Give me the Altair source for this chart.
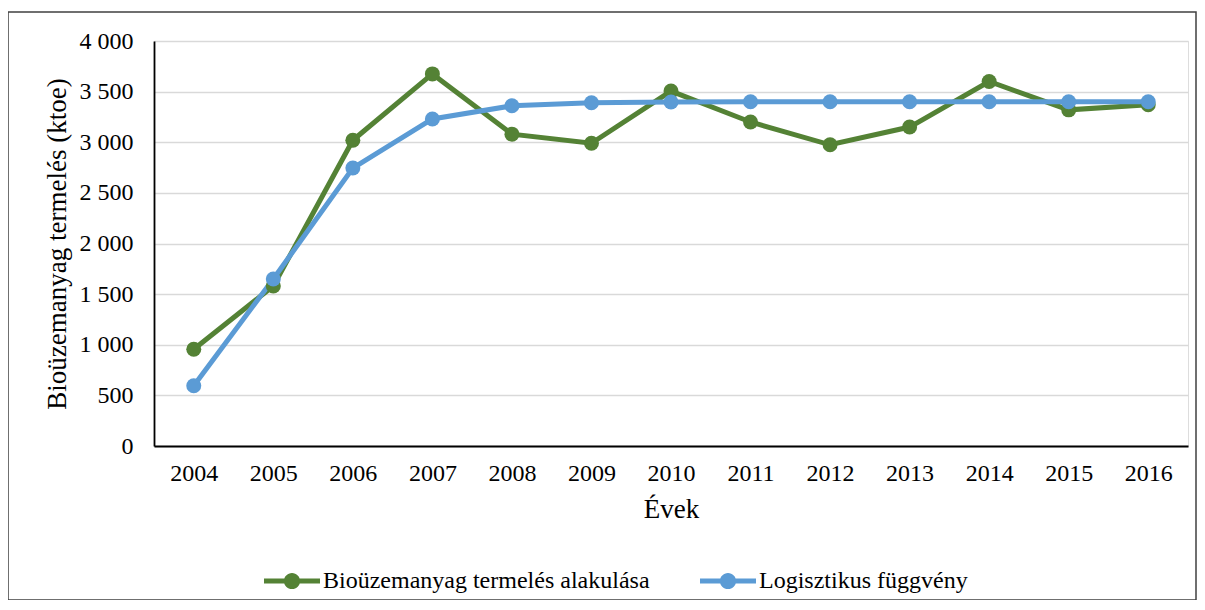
import altair as alt
import pandas as pd

years = [str(y) for y in range(2004, 2017)]
bio = [955, 1580, 3020, 3675, 3080, 2990, 3505, 3200, 2975, 3150, 3600, 3320, 3370]
logi = [595, 1650, 2745, 3230, 3360, 3390, 3398, 3400, 3400, 3400, 3400, 3400, 3400]
series_names = ["Bioüzemanyag termelés alakulása", "Logisztikus függvény"]
colors = ["#548235", "#5B9BD5"]

rows = []
for y, v in zip(years, bio):
    rows.append({"year": y, "value": v, "series": series_names[0]})
for y, v in zip(years, logi):
    rows.append({"year": y, "value": v, "series": series_names[1]})
df = pd.DataFrame(rows)

FONT = "Liberation Serif"
legend_path = ("M-1,-0.09 H1 V0.09 H-1 Z "
               "M0.29,0 A0.29,0.29 0 1,1 -0.29,0 A0.29,0.29 0 1,1 0.29,0 Z")

color = alt.Color(
    "series:N",
    scale=alt.Scale(domain=series_names, range=colors),
    legend=alt.Legend(
        title=None, orient="none", direction="horizontal",
        legendX=110, legendY=512,
        symbolType=legend_path, symbolSize=3136, symbolStrokeWidth=0,
        symbolOpacity=1,
        labelFont=FONT, labelFontSize=24, labelColor="#000000",
        columnPadding=50, labelOffset=3, labelLimit=500,
    ),
)

x = alt.X("year:O", sort=years, title="Évek",
          scale=alt.Scale(paddingInner=0, paddingOuter=0.5, domain=years),
          axis=alt.Axis(labelAngle=0, labelFont=FONT, labelFontSize=24,
                        labelColor="#000000", ticks=False, labelPadding=15,
                        titleFont=FONT, titleFontSize=27, titleFontWeight="normal",
                        titleColor="#000000", titlePadding=11,
                        domainColor="#000000", domainWidth=1.8, grid=False))
y = alt.Y("value:Q", title="Bioüzemanyag termelés (ktoe)",
          scale=alt.Scale(domain=[0, 4000], nice=False),
          axis=alt.Axis(values=list(range(0, 4001, 500)),
                        labelExpr="replace(format(datum.value, ','), ',', ' ')",
                        labelFont=FONT, labelFontSize=24, labelColor="#000000",
                        ticks=False, labelPadding=21,
                        titleFont=FONT, titleFontSize=27, titleFontWeight="normal",
                        titleColor="#000000", titlePadding=8,
                        domainColor="#000000", domainWidth=1.8,
                        grid=True, gridColor="#d9d9d9", gridWidth=1.5))

lines = alt.Chart(df).mark_line(strokeWidth=5).encode(x=x, y=y, color=color)
points = alt.Chart(df).mark_point(filled=True, size=225, opacity=1).encode(
    x=x, y=y, color=color)

frame = alt.Chart(alt.Data(values=[{"f": 1}])).mark_rect(
    fill=None, stroke="#404040", strokeWidth=1.5
).encode(x=alt.value(-146), x2=alt.value(1042), y=alt.value(-29), y2=alt.value(559))

chart = alt.layer(frame, lines, points).properties(
    width=1034, height=405,
    padding={"left": 146, "top": 33, "right": 9, "bottom": 154},
    autosize=alt.AutoSizeParams(type="none"),
).configure_view(stroke=None).configure(background="#ffffff")

chart.save("out.html", embed_options={"renderer": "svg", "actions": False})
